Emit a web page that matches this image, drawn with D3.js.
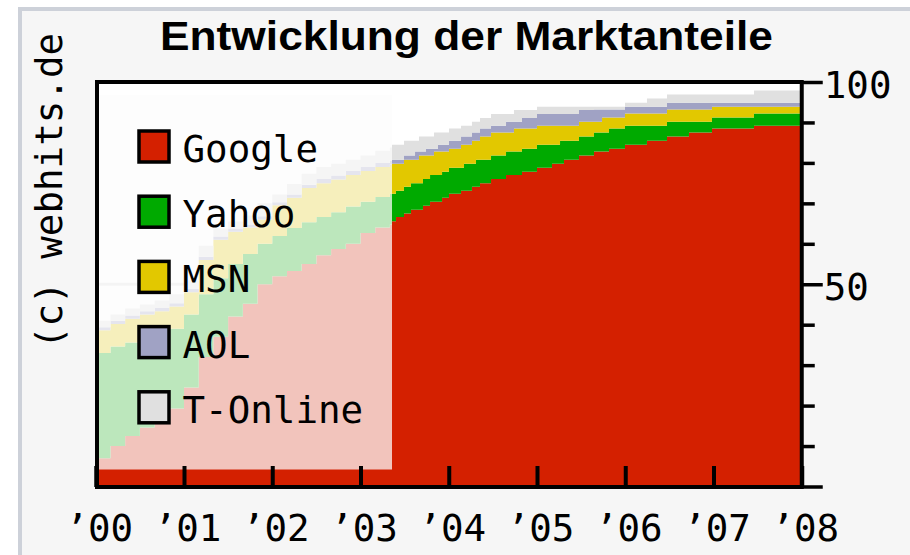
<!DOCTYPE html>
<html>
<head>
<meta charset="utf-8">
<script src="https://cdn.jsdelivr.net/npm/d3@7"></script>
<style>
  body { margin: 0; background: #fff; }
  svg { display: block; }
</style>
</head>
<body>
<div id="chart"></div>
<script>
// market share data (percent); dates as decimal years
const dates = [
  2000.000, 2000.167, 2000.333, 2000.500, 2000.667, 2000.833,
  2001.000, 2001.167, 2001.333, 2001.500, 2001.667, 2001.833,
  2002.000, 2002.167, 2002.333, 2002.500, 2002.667, 2002.833,
  2003.000, 2003.167, 2003.333,
  2003.357, 2003.402, 2003.493, 2003.572, 2003.618, 2003.663, 2003.708, 2003.742, 2003.788, 2003.833, 2003.878, 2003.924,
  2004.003, 2004.139, 2004.173, 2004.263, 2004.309, 2004.354, 2004.479, 2004.649, 2004.739, 2004.830,
  2005.000, 2005.170, 2005.261, 2005.306, 2005.476, 2005.646, 2005.737, 2005.816, 2005.997,
  2006.246, 2006.473, 2006.722, 2006.983, 2007.459, 2008.000
];
const google = [
  7.0, 10.0, 12.5, 14.6, 17.3, 19.3, 24.5, 32.0, 37.0, 42.0, 45.2, 50.0,
  52.0, 53.3, 55.0, 57.2, 58.7, 60.0, 62.7, 64.0, 64.8,
  65.6, 66.6, 67.5, 68.4, 68.4, 68.4, 69.4, 69.4, 70.4, 70.4, 70.4, 71.4,
  72.4, 73.1, 73.1, 74.1, 74.1, 75.0, 76.0, 77.0, 77.0, 77.8,
  78.8, 79.8, 79.8, 80.8, 81.8, 82.8, 82.8, 83.5, 84.5,
  85.5, 86.5, 87.5, 88.5, 89.2, 89.2
];
const yahoo = [
  26.0, 24.6, 23.1, 22.2, 20.5, 19.7, 18.0, 15.5, 14.5, 13.0, 12.3, 10.0,
  9.9, 10.6, 10.3, 9.4, 9.1, 9.2, 7.7, 7.6, 7.5,
  6.8, 6.5, 6.6, 6.6, 6.6, 6.6, 6.6, 6.6, 6.6, 6.6, 6.6, 6.4,
  6.4, 5.7, 6.7, 5.7, 6.7, 5.8, 5.8, 5.8, 5.8, 5.7,
  5.7, 4.7, 5.7, 4.7, 4.7, 4.7, 4.7, 5.0, 4.7,
  3.7, 3.7, 2.7, 2.7, 3.0, 3.0
];
const msn = [
  5.6, 5.6, 5.9, 5.7, 5.5, 5.5, 5.5, 8.5, 9.5, 8.0, 6.5, 6.0,
  7.6, 7.5, 8.5, 8.4, 8.1, 7.8, 7.6, 7.4, 7.3,
  7.4, 6.7, 6.7, 5.8, 5.8, 6.8, 5.8, 5.8, 4.8, 5.8, 5.8, 5.0,
  4.7, 5.7, 4.7, 5.7, 4.7, 5.7, 5.7, 4.7, 5.7, 5.0,
  4.7, 4.7, 3.7, 3.7, 3.7, 2.7, 3.7, 2.7, 3.0,
  3.0, 3.0, 3.0, 2.7, 1.7, 1.7
];
const aol = [
  0.8, 0.8, 0.8, 0.8, 0.8, 0.8, 0.8, 0.8, 0.8, 0.8, 0.8, 0.8,
  0.8, 0.8, 0.8, 1.0, 1.0, 1.0, 1.0, 1.0, 1.0,
  1.0, 1.0, 1.0, 1.0, 2.0, 1.0, 1.0, 1.7, 1.7, 0.7, 1.7, 1.7,
  2.0, 2.0, 2.0, 2.0, 2.0, 2.0, 1.7, 2.7, 1.7, 2.6,
  2.9, 2.9, 2.9, 2.9, 2.9, 3.0, 2.0, 2.0, 1.7,
  1.7, 1.7, 1.7, 1.0, 1.0, 1.0
];
const tonline = [
  1.6, 1.5, 1.7, 1.7, 1.9, 2.2, 2.2, 2.7, 2.0, 1.7, 2.2, 3.2,
  1.9, 2.6, 2.7, 3.0, 2.9, 2.8, 2.8, 3.0, 3.2,
  3.7, 3.7, 3.7, 3.7, 2.7, 3.7, 3.7, 3.0, 3.0, 4.0, 3.0, 3.0,
  3.0, 2.7, 2.7, 2.7, 2.7, 2.6, 2.9, 1.9, 2.9, 2.0,
  1.8, 1.8, 1.8, 1.8, 0.8, 0.7, 0.7, 0.7, 1.0,
  2.0, 2.0, 2.0, 2.0, 3.0, 3.0
];
const seriesNames = ["Google", "Yahoo", "MSN", "AOL", "T-Online"];
const seriesColors = ["#d42000", "#00aa00", "#e2c800", "#a0a2c4", "#e0e0e0"];
const tickYears = [2000, 2001, 2002, 2003, 2004, 2005, 2006, 2007, 2008];
const valueTicks = [0, 10, 20, 30, 40, 50, 60, 70, 80, 90, 100];
const labelledValues = [50, 100];
const fadedUntil = 2003.357; // older figures are shown washed out

const width = 910, height = 555;
const monoFont = "'DejaVu Sans Mono', monospace";

const svg = d3.select("#chart")
  .append("svg")
  .attr("width", width)
  .attr("height", height);

// page background with the grey frame on top / left
svg.append("rect").attr("width", width).attr("height", height).attr("fill", "#fff");
svg.append("rect")
  .attr("x", 20).attr("y", 9)
  .attr("width", width).attr("height", height)
  .attr("fill", "#f6f6f6")
  .attr("stroke", "#cdd1d9")
  .attr("stroke-width", 4);

const x = d3.scaleLinear().domain([2000, 2008]).range([95.75, 801.75]);
const y = d3.scaleLinear().domain([0, 100]).range([486.5, 82]);

// plot background
svg.append("rect")
  .attr("x", x(2000)).attr("y", y(100))
  .attr("width", x(2008) - x(2000)).attr("height", y(0) - y(100))
  .attr("fill", "#fff");

// grid line at 50
svg.append("line")
  .attr("x1", x(2000)).attr("x2", x(2008))
  .attr("y1", y(50)).attr("y2", y(50))
  .attr("stroke", "#dcdcdc")
  .attr("stroke-width", 3);

const rows = dates.map((d, i) => ({
  date: d,
  "Google": google[i],
  "Yahoo": yahoo[i],
  "MSN": msn[i],
  "AOL": aol[i],
  "T-Online": tonline[i]
}));

const stack = d3.stack().keys(seriesNames);
const layers = stack(rows);

const area = d3.area()
  .curve(d3.curveStepAfter)
  .x(d => x(d.data.date))
  .y0(d => y(d[0]))
  .y1(d => y(d[1]));

svg.append("g")
  .selectAll("path")
  .data(layers)
  .join("path")
  .attr("fill", (d, i) => seriesColors[i])
  .attr("d", area);

// wash out the early years
svg.append("rect")
  .attr("x", x(2000))
  .attr("y", y(96.8))
  .attr("width", x(fadedUntil) - x(2000))
  .attr("height", y(4.2) - y(96.8))
  .attr("fill", "#fcfcfc")
  .attr("fill-opacity", 0.745);

// bottom ticks pointing up into the plot
const xAxis = svg.append("g")
  .attr("transform", `translate(0,${y(0) + 0.5})`)
  .call(d3.axisBottom(x)
    .tickValues(tickYears)
    .tickSize(-21)
    .tickFormat(d => "\u2019" + String(d % 100).padStart(2, "0")));
xAxis.select(".domain").remove();
xAxis.selectAll(".tick line").attr("stroke", "#000").attr("stroke-width", 4);
xAxis.selectAll(".tick text")
  .attr("x", 3)
  .attr("y", 54)
  .attr("dy", 0)
  .attr("fill", "#000")
  .style("font-family", monoFont)
  .style("font-size", "37.5px");

// frame
svg.append("rect")
  .attr("x", 97).attr("y", y(100))
  .attr("width", x(2008) - 97).attr("height", y(0) + 0.5 - y(100))
  .attr("fill", "none")
  .attr("stroke", "#000")
  .attr("stroke-width", 4);

// right axis
const yAxis = svg.append("g")
  .attr("transform", `translate(${x(2008)},0)`)
  .call(d3.axisRight(y)
    .tickValues(valueTicks)
    .tickSize(13)
    .tickFormat(d => labelledValues.includes(d) ? d : ""));
yAxis.select(".domain").remove();
yAxis.selectAll(".tick line")
  .attr("stroke", "#000")
  .attr("stroke-width", 3.5)
  .attr("x2", d => (d % 50 === 0 ? 21 : 13));
yAxis.selectAll(".tick text")
  .attr("x", 22)
  .attr("dy", 15.5)
  .attr("fill", "#000")
  .style("font-family", monoFont)
  .style("font-size", "37.5px");

// legend
const legend = svg.append("g")
  .selectAll("g")
  .data(seriesNames)
  .join("g")
  .attr("transform", (d, i) => `translate(0,${i * 65.2})`);

legend.append("rect")
  .attr("x", 139).attr("y", 131)
  .attr("width", 30).attr("height", 31)
  .attr("fill", (d, i) => seriesColors[i])
  .attr("stroke", "#000")
  .attr("stroke-width", 3.5);

legend.append("text")
  .attr("x", 182.5).attr("y", 162)
  .style("font-family", monoFont)
  .style("font-size", "37.5px")
  .text(d => d);

// title
svg.append("text")
  .attr("x", 466.5).attr("y", 50)
  .attr("text-anchor", "middle")
  .attr("textLength", 613)
  .attr("lengthAdjust", "spacingAndGlyphs")
  .style("font-family", "'Liberation Sans', Arial, sans-serif")
  .style("font-weight", "bold")
  .style("font-size", "40px")
  .text("Entwicklung der Marktanteile");

// copyright note
svg.append("text")
  .attr("transform", "translate(62,191) rotate(-90)")
  .attr("text-anchor", "middle")
  .style("font-family", monoFont)
  .style("font-size", "37.5px")
  .text("(c) webhits.de");
</script>
</body>
</html>
